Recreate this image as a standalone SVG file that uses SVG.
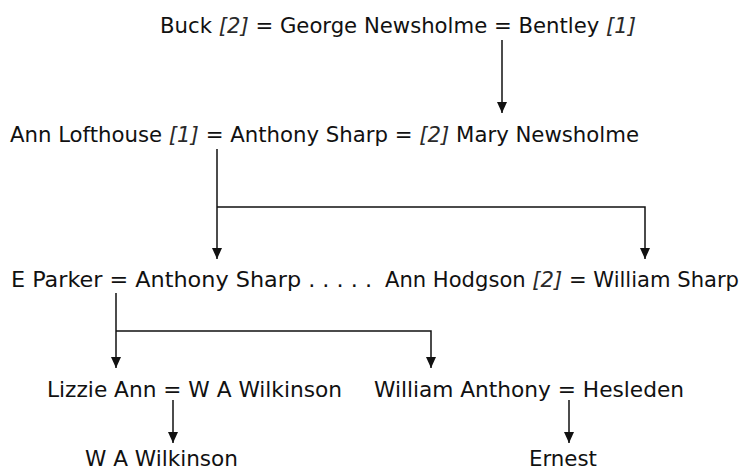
<svg xmlns="http://www.w3.org/2000/svg" width="744" height="470" viewBox="0 0 744 470">
<defs>
<style>
text{font-family:"DejaVu Sans Condensed","DejaVu Sans","Liberation Sans",sans-serif;font-size:21.5px;fill:#111}
.i{font-style:italic;fill:#2a2a2a}
.c{fill:none;stroke:#111;stroke-width:1.5}
</style>
<marker id="ah" markerUnits="userSpaceOnUse" markerWidth="12" markerHeight="12" viewBox="0 0 12 12" refX="11" refY="6" orient="auto">
<path d="M0,1 L11,6 L0,11 Z" fill="#111"/>
</marker>
</defs>
<rect width="744" height="470" fill="#fff"/>
<g id="connectors">
<path class="c" d="M502,40 V113" marker-end="url(#ah)"/>
<path class="c" d="M217,149 V259"  marker-end="url(#ah)"/>
<path class="c" d="M217,207 H645 V259" marker-end="url(#ah)"/>
<path class="c" d="M116,293 V368" marker-end="url(#ah)"/>
<path class="c" d="M116,331 H431 V368" marker-end="url(#ah)"/>
<path class="c" d="M173,400 V443" marker-end="url(#ah)"/>
<path class="c" d="M569,400 V443" marker-end="url(#ah)"/>
</g>
<g id="gen1"><text x="160" y="33" textLength="476" lengthAdjust="spacingAndGlyphs">Buck <tspan class="i">[2]</tspan> = George Newsholme = Bentley <tspan class="i">[1]</tspan></text></g>
<g id="gen2"><text x="10" y="142" textLength="629" lengthAdjust="spacingAndGlyphs">Ann Lofthouse <tspan class="i">[1]</tspan> = Anthony Sharp = <tspan class="i">[2]</tspan> Mary Newsholme</text></g>
<g id="gen3a"><text x="11" y="287" textLength="361" lengthAdjust="spacingAndGlyphs">E Parker = Anthony Sharp . . . . .</text></g>
<g id="gen3b"><text x="385" y="287" textLength="354" lengthAdjust="spacingAndGlyphs">Ann Hodgson <tspan class="i">[2]</tspan> = William Sharp</text></g>
<g id="gen4a"><text x="47" y="397" textLength="295" lengthAdjust="spacingAndGlyphs">Lizzie Ann = W A Wilkinson</text></g>
<g id="gen4b"><text x="374" y="397" textLength="310" lengthAdjust="spacingAndGlyphs">William Anthony = Hesleden</text></g>
<g id="gen5a"><text x="85" y="466" textLength="153" lengthAdjust="spacingAndGlyphs">W A Wilkinson</text></g>
<g id="gen5b"><text x="529" y="466" textLength="68" lengthAdjust="spacingAndGlyphs">Ernest</text></g>
</svg>
